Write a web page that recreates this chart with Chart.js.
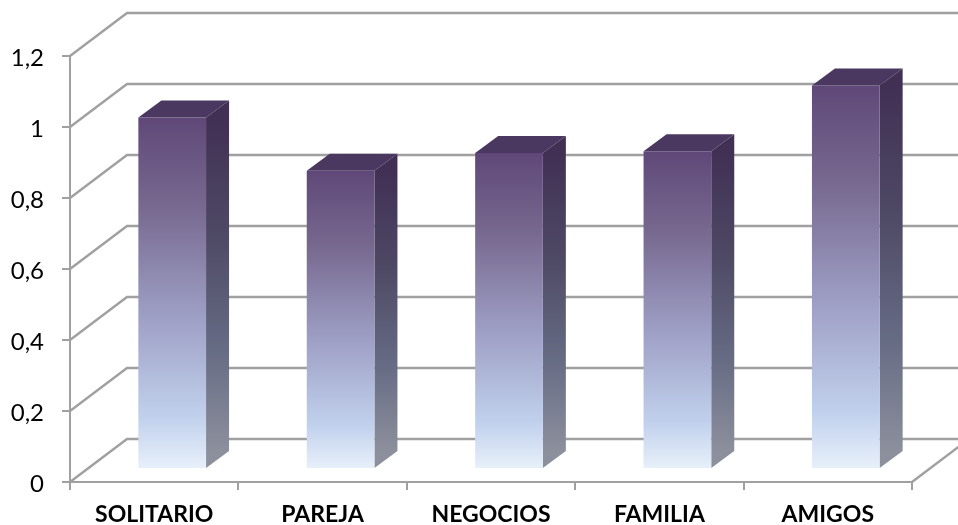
<!DOCTYPE html>
<html><head><meta charset="utf-8">
<style>html,body{margin:0;padding:0;background:#fff;overflow:hidden}#w{width:958px;height:525px;position:relative}</style>
<script src="https://cdn.jsdelivr.net/npm/chart.js@4"></script>
</head><body><div id="w"><canvas id="c"></canvas></div>
<script>
const categories = ['SOLITARIO','PAREJA','NEGOCIOS','FAMILIA','AMIGOS'];
const values = [0.99,0.84,0.89,0.895,1.08];
const yTickLabels = ['0','0,2','0,4','0,6','0,8','1','1,2'];
const LINE = '#a0a0a0';
const WALL = {dx:57, dy:43};
const BAR = {shiftX:18, shiftY:13, dx:23, dy:17};

const threeD = {
  id:'threeD',
  beforeDatasetsDraw(chart){
    const {ctx, chartArea:a, scales:{y}} = chart;
    ctx.save();
    ctx.strokeStyle = LINE; ctx.lineWidth = 2.4; ctx.lineJoin='miter';
    y.ticks.forEach(t=>{
      const p = Math.round(y.getPixelForValue(t.value));
      ctx.beginPath();
      ctx.moveTo(a.left,p);
      ctx.lineTo(a.left+WALL.dx,p-WALL.dy);
      ctx.lineTo(chart.width+2,p-WALL.dy);
      ctx.stroke();
    });
    const b = Math.round(a.bottom);
    ctx.beginPath();
    ctx.moveTo(a.right,b);
    ctx.lineTo(a.right+WALL.dx,b-WALL.dy);
    ctx.stroke();
    ctx.restore();
  },
  beforeDatasetDraw(chart,args){
    const {ctx} = chart;
    ctx.save();
    ctx.translate(BAR.shiftX,-BAR.shiftY);
    args.meta.data.forEach(el=>{
      const r = el.x+el.width/2, l = el.x-el.width/2, t = el.y, b = el.base;
      const gs = ctx.createLinearGradient(0,t,0,b-BAR.dy);
      gs.addColorStop(0,'#413054');
      gs.addColorStop(0.35,'#4e4965');
      gs.addColorStop(0.7,'#676c85');
      gs.addColorStop(1,'#8c8f9c');
      ctx.fillStyle = gs;
      ctx.beginPath();
      ctx.moveTo(r,t); ctx.lineTo(r+BAR.dx,t-BAR.dy); ctx.lineTo(r+BAR.dx,b-BAR.dy); ctx.lineTo(r,b);
      ctx.closePath(); ctx.fill();
      ctx.fillStyle = '#4a3860';
      ctx.beginPath();
      ctx.moveTo(l,t); ctx.lineTo(l+BAR.dx,t-BAR.dy); ctx.lineTo(r+BAR.dx,t-BAR.dy); ctx.lineTo(r,t);
      ctx.closePath(); ctx.fill();
    });
  },
  afterDatasetDraw(chart){ chart.ctx.restore(); }
};

new Chart(document.getElementById('c'),{
  type:'bar',
  data:{labels:categories,datasets:[{
    data:values,
    categoryPercentage:0.402, barPercentage:1, borderWidth:0, clip:false,
    backgroundColor(c){
      const ch=c.chart;
      if(!ch.chartArea||c.raw===undefined) return '#8f86ab';
      const y=ch.scales.y, t=y.getPixelForValue(c.raw), b=y.getPixelForValue(0);
      const g=ch.ctx.createLinearGradient(0,t,0,b);
      g.addColorStop(0,'#5f4878');
      g.addColorStop(0.25,'#77688f');
      g.addColorStop(0.55,'#9c9cc2');
      g.addColorStop(0.85,'#c0d0ec');
      g.addColorStop(1,'#e8f0fa');
      return g;
    }
  }]},
  plugins:[threeD],
  options:{
    responsive:true, maintainAspectRatio:false, animation:false,
    layout:{padding:{top:56,right:46,bottom:0,left:0}},
    plugins:{legend:{display:false},tooltip:{enabled:false},title:{display:false}},
    scales:{
      x:{
        offset:true,
        afterFit(s){s.height=43;},
        grid:{drawOnChartArea:false,offset:true,color:LINE,lineWidth:2,tickLength:8},
        border:{color:LINE,width:2},
        ticks:{autoSkip:false,maxRotation:0,color:'#000',padding:11,font:{family:'Lato',size:23,weight:'bold'}}
      },
      y:{
        min:0,max:1.2,
        afterFit(s){s.width=70;},
        grid:{drawOnChartArea:false,color:LINE,lineWidth:2,tickLength:8},
        border:{color:LINE,width:2},
        ticks:{stepSize:0.2,color:'#000',padding:18,labelOffset:2,font:{family:'Lato',size:24},
          callback(v,i){return yTickLabels[i];}}
      }
    }
  }
});
</script></body></html>
